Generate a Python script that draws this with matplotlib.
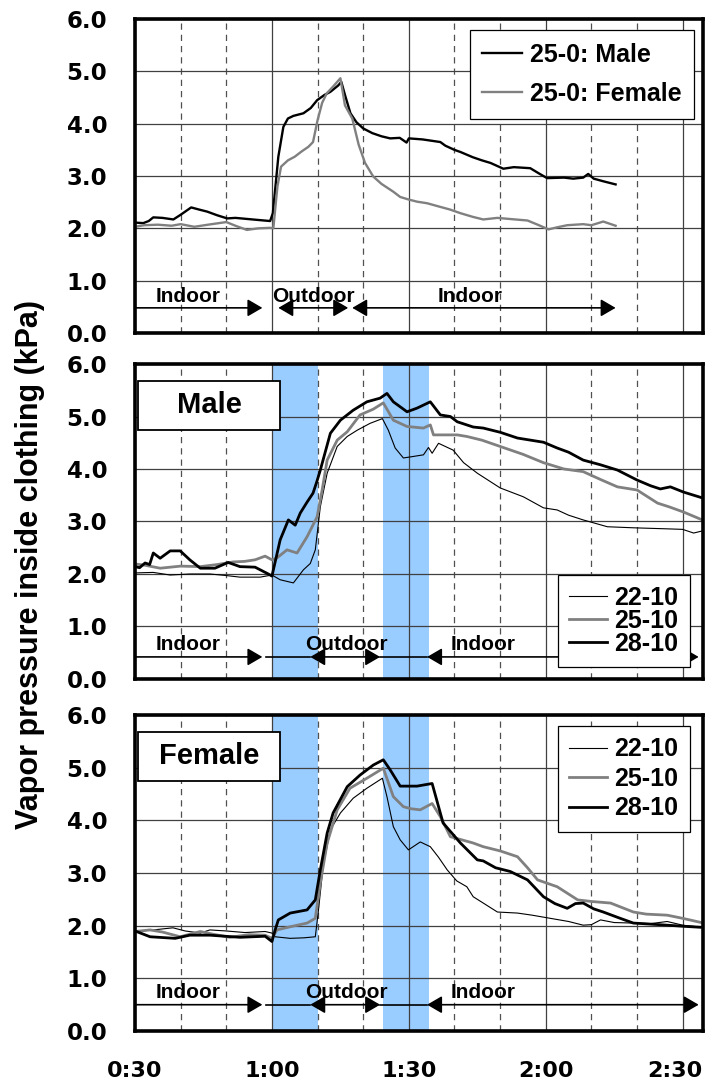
import numpy as np
import matplotlib
matplotlib.use('Agg')
from matplotlib import pyplot as plt
from matplotlib.patches import Rectangle, ArrowStyle
from matplotlib.ticker import MultipleLocator, FixedLocator

plt.rcParams['font.family'] = ['Liberation Sans', 'DejaVu Sans']
plt.rcParams['font.weight'] = 'bold'

# time in minutes after start (0:30 = 30)
# --- 25-0 condition, male vs female ---
t_m250 = [30, 31.8, 33, 34, 36, 38.4, 40, 42.3, 44, 45.8, 48, 50.2, 52, 54.5, 57, 59.6, 60.2, 61.4, 62.5, 63.5,
          64.7, 66.9, 68.5, 69.9, 71.5, 72.8, 74.5, 75.2, 76, 77.2, 78.5, 80, 82, 84, 85.9, 88, 89.5, 90, 93,
          96.9, 98, 100, 101.3, 104, 106, 107.9, 110.7, 113, 116.6, 118.5, 120.3, 124, 126, 128.2, 129.3, 130.5,
          132.6, 135.3]
v_m250 = [2.11, 2.10, 2.14, 2.21, 2.20, 2.17, 2.26, 2.40, 2.36, 2.32, 2.25, 2.19, 2.20, 2.18, 2.16, 2.14, 2.29,
          3.37, 3.94, 4.10, 4.15, 4.20, 4.30, 4.45, 4.55, 4.61, 4.73, 4.80, 4.55, 4.20, 4.03, 3.91, 3.82, 3.76,
          3.72, 3.73, 3.64, 3.72, 3.70, 3.65, 3.58, 3.50, 3.46, 3.36, 3.30, 3.25, 3.14, 3.17, 3.15, 3.05, 2.96,
          2.97, 2.95, 2.97, 3.04, 2.95, 2.90, 2.84]
t_f250 = [30, 32, 35, 38, 40, 43, 46, 50, 52, 54.5, 57, 59.6, 60.3, 61.2, 62, 63.5, 65, 66.5, 68, 69, 70, 71, 72,
          73.5, 75, 76, 77.6, 79, 80.4, 82.2, 84, 86.6, 88.1, 90, 91.8, 94, 96.9, 99, 101.3, 104, 106.3, 109.4,
          112, 116, 118.5, 120.6, 122.5, 124.7, 128.2, 130, 132.6, 135.3]
v_f250 = [2.03, 2.06, 2.07, 2.05, 2.08, 2.03, 2.07, 2.12, 2.05, 1.97, 2.00, 2.01, 2.00, 2.80, 3.18, 3.30, 3.37,
          3.47, 3.56, 3.65, 4.07, 4.40, 4.58, 4.72, 4.87, 4.35, 4.10, 3.60, 3.25, 2.99, 2.85, 2.70, 2.60, 2.55,
          2.51, 2.48, 2.41, 2.36, 2.29, 2.22, 2.17, 2.20, 2.18, 2.15, 2.06, 1.98, 2.02, 2.06, 2.08, 2.06, 2.13,
          2.05]

# --- male, three conditions ---
t_m22 = [30, 34, 37.7, 42, 46.4, 50, 53, 57.4, 60, 61.8, 64.7, 66.9, 68.4, 69.5, 70.6, 72.1, 74.3, 76.5, 78.7,
         81.5, 84.2, 85.5, 87, 88.8, 90.3, 93.2, 94.3, 95.1, 96.5, 99.7, 102, 105, 107.5, 110, 115.1, 119.5,
         122.5, 125, 128.2, 133.5, 139.2, 146.6, 150, 152.4, 154.3]
v_m22 = [2.02, 2.03, 1.98, 2.00, 2.00, 1.97, 1.94, 1.94, 1.98, 1.89, 1.83, 2.08, 2.20, 2.46, 3.28, 3.92, 4.43,
         4.62, 4.74, 4.87, 4.96, 4.74, 4.40, 4.21, 4.23, 4.27, 4.41, 4.30, 4.49, 4.36, 4.12, 3.92, 3.78, 3.64,
         3.47, 3.26, 3.22, 3.12, 3.03, 2.90, 2.88, 2.86, 2.85, 2.78, 2.82]
t_m25 = [30, 32, 35.5, 40, 44.3, 48, 51.5, 54, 56.3, 58.5, 60, 61, 63.3, 65.5, 67.7, 69.9, 71, 72.1, 74.3, 76.5,
         79.3, 82.2, 84.4, 86.6, 89.6, 93.2, 94.7, 95.4, 100.6, 102.7, 106, 110, 115, 119.5, 124, 128.2, 132,
         135.7, 140, 144.5, 147, 150.2, 154.3]
v_m25 = [2.19, 2.17, 2.11, 2.15, 2.14, 2.18, 2.23, 2.24, 2.27, 2.34, 2.27, 2.30, 2.46, 2.40, 2.71, 3.09, 3.60,
         4.17, 4.55, 4.71, 5.03, 5.14, 5.26, 4.93, 4.81, 4.78, 4.84, 4.65, 4.65, 4.62, 4.55, 4.43, 4.28, 4.12,
         4.00, 3.95, 3.80, 3.66, 3.60, 3.35, 3.28, 3.18, 3.03]
t_m28 = [30, 31, 32.2, 33.2, 34, 35.5, 37.7, 39.9, 42, 44.3, 47.5, 50.4, 53, 56.3, 59.2, 60, 61.8, 63.6, 65.1,
         66.2, 67.7, 69, 69.8, 70.6, 72.8, 75, 77.8, 80.8, 83.7, 85.2, 86.6, 89.6, 91.8, 94.7, 96.9, 99.1, 100.6,
         104.1, 106.3, 110, 113.8, 119.5, 122.5, 125, 128.2, 132, 135.7, 140, 143, 145.1, 147.3, 150.2, 154.3]
v_m28 = [2.14, 2.12, 2.21, 2.18, 2.40, 2.30, 2.44, 2.44, 2.27, 2.11, 2.11, 2.22, 2.14, 2.13, 2.00, 1.96, 2.65,
         3.03, 2.93, 3.16, 3.37, 3.54, 3.75, 3.98, 4.68, 4.93, 5.12, 5.28, 5.35, 5.44, 5.28, 5.09, 5.16, 5.28,
         5.03, 5.00, 4.90, 4.80, 4.78, 4.70, 4.59, 4.51, 4.40, 4.32, 4.17, 4.08, 3.98, 3.79, 3.68, 3.62, 3.66,
         3.56, 3.45]

# --- female, three conditions ---
t_f22 = [30, 34, 38.3, 41, 44.3, 46.4, 50, 54.1, 58.5, 60, 60.7, 64, 67, 69.5, 70.2, 71.2, 72.8, 75, 77.8, 80.8,
         84.2, 85.2, 86.6, 88.1, 89.9, 92.5, 94.7, 96.5, 98.4, 100.5, 102.7, 104.1, 106.3, 109.4, 113.8, 117,
         121, 125, 128.2, 130, 132, 135, 139.2, 143, 146.6, 150, 154.3]
v_f22 = [1.89, 1.92, 1.96, 1.90, 1.86, 1.92, 1.90, 1.87, 1.89, 1.86, 1.79, 1.76, 1.77, 1.79, 2.30, 3.12, 3.82,
         4.14, 4.42, 4.61, 4.80, 4.45, 3.88, 3.63, 3.44, 3.59, 3.50, 3.30, 3.06, 2.85, 2.74, 2.55, 2.43, 2.26,
         2.24, 2.20, 2.14, 2.08, 2.01, 2.02, 2.11, 2.06, 2.05, 2.04, 2.08, 2.01, 1.97]
t_f25 = [30, 33.3, 36, 39.9, 44.3, 47, 50.8, 55, 58.5, 60, 61.1, 64, 67.7, 69.5, 70.6, 72.1, 74.3, 77.1, 80.8,
         84.4, 86.6, 88.8, 90.5, 92.5, 95.1, 96.9, 99.1, 104.1, 106.3, 110, 113.8, 116, 118.2, 122.5, 127, 130,
         134.2, 139.2, 142, 146.6, 150, 154.6]
v_f25 = [1.89, 1.92, 1.88, 1.79, 1.89, 1.84, 1.78, 1.83, 1.82, 1.76, 1.92, 1.98, 2.05, 2.14, 2.81, 3.57, 4.20,
         4.61, 4.80, 4.99, 4.45, 4.26, 4.22, 4.20, 4.32, 4.07, 3.69, 3.57, 3.50, 3.42, 3.31, 3.10, 2.87, 2.74,
         2.49, 2.46, 2.43, 2.26, 2.22, 2.20, 2.14, 2.05]
t_f28 = [30, 33.3, 38.8, 42, 46.4, 53, 58.5, 60, 60.7, 61.4, 64, 67.7, 69.5, 70.6, 72.1, 73.4, 76.5, 79.3, 82.2,
         84.4, 85.9, 88.1, 91.8, 95.1, 97.5, 101.3, 105, 106.3, 109, 112.2, 116, 119.5, 122, 124.7, 126.5, 128.2,
         130.5, 132.6, 136, 139.2, 143, 146.6, 150, 153.9]
v_f28 = [1.90, 1.79, 1.76, 1.82, 1.82, 1.78, 1.80, 1.70, 1.92, 2.11, 2.24, 2.30, 2.49, 3.06, 3.76, 4.14, 4.64,
         4.86, 5.05, 5.15, 4.96, 4.65, 4.65, 4.70, 3.95, 3.57, 3.25, 3.23, 3.10, 3.03, 2.87, 2.55, 2.42, 2.33,
         2.42, 2.43, 2.32, 2.26, 2.15, 2.05, 2.03, 2.01, 1.99, 1.97]

# outdoor exposure periods (shaded) and time labels
outdoor_bands = [(60, 70), (84.3, 94.5)]
x_ticks = [30, 60, 90, 120, 150]
x_labels = ['0:30', '1:00', '1:30', '2:00', '2:30']

X_MAX = 154.4
GRAY = '#808080'
BLUE = '#99CCFF'
TICK_FONT = ['DejaVu Sans']

head = ArrowStyle('-|>', head_length=0.6, head_width=0.35)
head2 = ArrowStyle('<|-|>', head_length=0.6, head_width=0.35)


def setup_axes(ax):
	ax.set_xlim(30, X_MAX)
	ax.set_ylim(0, 6)
	ax.xaxis.set_major_locator(FixedLocator(x_ticks))
	ax.xaxis.set_minor_locator(MultipleLocator(10))
	ax.set_yticks(np.arange(0, 7))
	ax.set_yticklabels(['%.1f' % v for v in range(7)], family=TICK_FONT, fontsize=16.5, fontweight='bold')
	ax.set_xticklabels([])
	ax.tick_params(which='both', length=0)
	ax.tick_params(axis='y', pad=20)
	ax.set_axisbelow(True)
	ax.grid(which='major', axis='both', color='#404040', lw=0.9, ls='-')
	ax.grid(which='minor', axis='x', color='#505050', lw=0.9, ls=(0, (5, 4)))
	for sp in ax.spines.values():
		sp.set_linewidth(2.6)


def time_labels(ax):
	# the last label would run off the figure, so it is right-aligned on the frame
	for x, lab in zip(x_ticks, x_labels):
		if x == x_ticks[-1]:
			x, ha = X_MAX, 'right'
		else:
			ha = 'center'
		ax.text(x, -0.128, lab, transform=ax.get_xaxis_transform(), ha=ha, va='center',
				family=TICK_FONT, fontsize=16, fontweight='bold')


def arrow(ax, x0, x1, y, style):
	ax.annotate('', xy=(x1, y), xytext=(x0, y),
				arrowprops=dict(arrowstyle=style, color='black', lw=1.2, mutation_scale=15,
								shrinkA=0, shrinkB=0))


def phase_text(ax, x, y, s):
	ax.text(x, y, s, ha='center', va='center', fontsize=15, fontweight='bold')


def label_box(ax, s):
	ax.add_patch(Rectangle((0.006, 0.792), 0.25, 0.155, transform=ax.transAxes, facecolor='white',
						   edgecolor='black', lw=1.3, zorder=5))
	ax.text(0.131, 0.869, s, transform=ax.transAxes, ha='center', va='center', fontsize=21,
			fontweight='bold', zorder=6)


def add_legend(ax, loc, anchor, hlen, lspace, bpad):
	leg = ax.legend(loc=loc, bbox_to_anchor=anchor, borderaxespad=0, fontsize=18, handlelength=hlen,
					handletextpad=0.3, labelspacing=lspace, borderpad=bpad, fancybox=False, framealpha=1,
					edgecolor='black')
	leg.get_frame().set_linewidth(0.9)
	leg.set_zorder(10)


fig = plt.figure(figsize=(7.07, 10.86), dpi=100)
ax1 = fig.add_axes([0.191, 0.6934, 0.803, 0.289])
ax2 = fig.add_axes([0.191, 0.3748, 0.803, 0.290])
ax3 = fig.add_axes([0.191, 0.0506, 0.803, 0.291])

# top panel
setup_axes(ax1)
ax1.plot(t_m250, v_m250, color='black', lw=1.7, label='25-0: Male')
ax1.plot(t_f250, v_f250, color=GRAY, lw=1.7, label='25-0: Female')
arrow(ax1, 30, 57.9, 0.48, head)
arrow(ax1, 61.4, 76.7, 0.48, head2)
arrow(ax1, 77.6, 135.3, 0.48, head2)
phase_text(ax1, 41.6, 0.70, 'Indoor')
phase_text(ax1, 69.2, 0.70, 'Outdoor')
phase_text(ax1, 103.5, 0.70, 'Indoor')
add_legend(ax1, 'upper right', (0.984, 0.965), 1.6, 0.62, 0.5)

# middle and bottom panels share the same layout
for ax, data, name, arrow_y, lpos, lspace in [
		(ax2, [(t_m22, v_m22), (t_m25, v_m25), (t_m28, v_m28)], 'Male', 0.42, ('lower right', (0.977, 0.038)), -0.05),
		(ax3, [(t_f22, v_f22), (t_f25, v_f25), (t_f28, v_f28)], 'Female', 0.5, ('upper right', (0.977, 0.965)), 0.22)]:
	setup_axes(ax)
	for a, b in outdoor_bands:
		ax.axvspan(a, b, color=BLUE, lw=0, zorder=0.2)
	ax.plot(data[0][0], data[0][1], color='black', lw=0.8, label='22-10')
	ax.plot(data[1][0], data[1][1], color=GRAY, lw=2.0, label='25-10')
	ax.plot(data[2][0], data[2][1], color='black', lw=2.0, label='28-10')
	arrow(ax, 30, 57.9, arrow_y, head)
	ax.plot([58.7, 68.4], [arrow_y, arrow_y], color='black', lw=1.2)
	arrow(ax, 68.4, 83.7, arrow_y, head2)
	ax.plot([83.7, 94.0], [arrow_y, arrow_y], color='black', lw=1.2)
	arrow(ax, 94.0, 153.5, arrow_y, head2)
	phase_text(ax, 41.6, arrow_y + 0.24, 'Indoor')
	phase_text(ax, 76.3, arrow_y + 0.24, 'Outdoor')
	phase_text(ax, 106.3, arrow_y + 0.24, 'Indoor')
	label_box(ax, name)
	add_legend(ax, lpos[0], lpos[1], 1.5, lspace, 0.45)

time_labels(ax3)

fig.text(0.042, 0.480, 'Vapor pressure inside clothing (kPa)', rotation=90, ha='center', va='center',
		 fontsize=22, fontweight='bold')

plt.savefig('out.png', dpi=100)
